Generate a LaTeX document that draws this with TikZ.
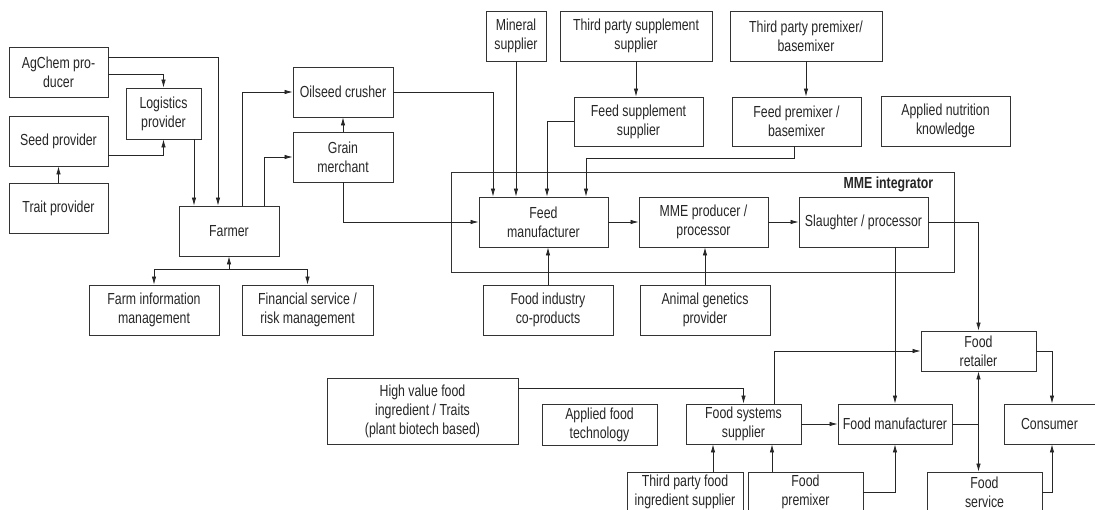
\documentclass[tikz,border=0pt]{standalone}
\usepackage{fontspec}
\setmainfont{Liberation Sans}[FakeStretch=0.77]
\usepackage{tikz}
\usetikzlibrary{arrows.meta, positioning, calc}
\tikzset{%
	actor/.style={
		draw=black!80,
		line width=0.9pt,
		align=center,
		inner sep=2pt,
		text=black!85,
		font=\fontsize{16}{19}\selectfont
	},
	sz/.style 2 args={
		minimum width=#1pt,
		minimum height=#2pt
	},
	frame/.style={
		draw=black!80,
		line width=0.9pt
	},
	link/.style={
		draw=black!85,
		line width=0.75pt
	},
	flow/.style={
		link,
		-{Latex[length=8pt,width=4.5pt]}
	},
}

\begin{document}
\begin{tikzpicture}[x=1pt, y=-1pt]
			\useasboundingbox (0,0) rectangle (1095,509);
			
			% Farm inputs
			\node[actor, sz={99}{50}] (agchem) at (58.5,72) {AgChem pro-\\ducer};
			\node[actor, sz={75}{51}] (logist) at (163.5,113.5) {Logistics\\provider};
			\node[actor, sz={99}{50}] (seed) at (58.5,141) {Seed provider};
			\node[actor, sz={99}{50}] (trait) at (58.5,208) {Trait provider};
			\node[actor, sz={100}{50}] (farmer) at (229,231) {Farmer};
			\node[actor, sz={100}{50}] (oilseed) at (343,92) {Oilseed crusher};
			\node[actor, sz={100}{50}] (grain) at (343,157) {Grain\\merchant};
			\node[actor, sz={130}{50}] (farminfo) at (154,310) {Farm information\\management};
			\node[actor, sz={131}{50}] (finserv) at (307.5,310) {Financial service /\\risk management};
			
			% Feed suppliers
			\node[actor, sz={60}{50}] (mineral) at (516,36) {Mineral\\supplier};
			\node[actor, sz={152}{50}] (tpsupp) at (636,36) {Third party supplement\\supplier};
			\node[actor, sz={152}{50}] (tppremix) at (806,36) {Third party premixer/\\basemixer};
			\node[actor, sz={129}{49}] (feedsupp) at (638.5,121.5) {Feed supplement\\supplier};
			\node[actor, sz={129}{49}] (feedpremix) at (796.5,121.5) {Feed premixer /\\basemixer};
			\node[actor, sz={129}{50}] (applnutr) at (945.5,121) {Applied nutrition\\knowledge};
			
			% MME integrator
			\node[frame, sz={503}{100}] (mme) at (702.5,222) {};
			\node[anchor=north east, inner sep=0pt, text=black!85, font=\fontsize{16}{19}\selectfont\bfseries]
				(mmelabel) at ([xshift=-21pt,yshift=-5pt]mme.north east) {MME integrator};
			\node[actor, sz={129}{50}] (feedman) at (543.5,222) {Feed\\manufacturer};
			\node[actor, sz={129}{50}] (mmeprod) at (703.5,222) {MME producer /\\processor};
			\node[actor, sz={129}{50}] (slaughter) at (863.5,222) {Slaughter / processor};
			\node[actor, sz={130}{50}] (foodind) at (548,310) {Food industry\\co-products};
			\node[actor, sz={130}{50}] (animgen) at (705,310) {Animal genetics\\provider};
			
			% Food chain
			\node[actor, sz={191}{66}] (highval) at (422.5,411) {High value food\\ingredient / Traits\\(plant biotech based)};
			\node[actor, sz={115}{41}] (applfood) at (599.5,424.5) {Applied food\\technology};
			\node[actor, sz={115}{40}] (foodsys) at (743.5,424) {Food systems\\supplier};
			\node[actor, sz={114}{40}] (foodmanuf) at (895,424) {Food manufacturer};
			\node[actor, sz={91}{40}] (consumer) at (1049.5,424) {Consumer};
			\node[actor, sz={115}{40}] (retailer) at (978.5,351) {Food\\retailer};
			\node[actor, sz={116}{40}] (tpfood) at (685,492) {Third party food\\ingredient supplier};
			\node[actor, sz={115}{40}] (premixer) at (805.5,492) {Food\\premixer};
			\node[actor, sz={115}{40}] (service) at (984.5,492) {Food\\service};
			
			% Links round the farmer
			\draw[flow] ([yshift=15pt]agchem.east) -| ([xshift=-11pt]farmer.north);
			\draw[flow] ([yshift=-2pt]agchem.east) -| (logist.north);
			\draw[flow] ([yshift=-14pt]seed.east) -| (logist.south);
			\draw[flow] (trait.north) -- (seed.south);
			\draw[flow] ([xshift=30.5pt]logist.south) -- ([xshift=30.5pt]logist.south |- farmer.north);
			\draw[flow] ([xshift=13pt]farmer.north) |- (oilseed.west);
			\draw[flow] ([xshift=35pt]farmer.north) |- (grain.west);
			\draw[flow] (grain.north) -- (oilseed.south);
			\coordinate (fsplit) at ($(farmer.south)+(0,13)$);
			\draw[flow] (fsplit) -- (farmer.south);
			\draw[flow] (fsplit) -| (farminfo.north);
			\draw[flow] (fsplit) -| (finserv.north);
			
			% Links into the feed manufacturer
			\draw[flow] (grain.south) |- (feedman.west);
			\draw[flow] (oilseed.east) -| ([xshift=-50.5pt]feedman.north);
			\draw[flow] (mineral.south) -- (mineral.south |- feedman.north);
			\draw[flow] (feedsupp.west) -| ([xshift=3.5pt]feedman.north);
			\draw[flow] ([xshift=-2.5pt]feedpremix.south) -- ++(0,12) -| ([xshift=42.5pt]feedman.north);
			\draw[flow] (tpsupp.south) -- (tpsupp.south |- feedsupp.north);
			\draw[flow] (tppremix.south) -- (tppremix.south |- feedpremix.north);
			\draw[flow] (feedman.east) -- (mmeprod.west);
			\draw[flow] (mmeprod.east) -- (slaughter.west);
			\draw[flow] (foodind.north) -- (foodind.north |- feedman.south);
			\draw[flow] (animgen.north) -- (animgen.north |- mmeprod.south);
			
			% Links down the food chain
			\draw[flow] (slaughter.east) -| (retailer.north);
			\draw[flow] (slaughter.south -| foodmanuf.north) -- (foodmanuf.north);
			\draw[flow] ([yshift=23pt]highval.east) -| (foodsys.north);
			\draw[flow] ([xshift=31pt]foodsys.north) |- (retailer.west);
			\draw[flow] (foodsys.east) -- (foodmanuf.west);
			\draw[flow] ([xshift=28pt]tpfood.north) -- ([xshift=28pt]tpfood.north |- foodsys.south);
			\draw[flow] ([xshift=-33.5pt]premixer.north) -- ([xshift=-33.5pt]premixer.north |- foodsys.south);
			\draw[flow] (premixer.east) -| (foodmanuf.south);
			\coordinate (rsplit) at (foodmanuf.east -| retailer.south);
			\draw[link] (foodmanuf.east) -- (rsplit);
			\draw[flow] (rsplit) -- (retailer.south);
			\draw[flow] (rsplit) -- (rsplit |- service.north);
			\draw[flow] (retailer.east) -| ([xshift=2.5pt]consumer.north);
			\draw[flow] (service.east) -| ([xshift=2.5pt]consumer.south);
			
		\end{tikzpicture}
\end{document}
